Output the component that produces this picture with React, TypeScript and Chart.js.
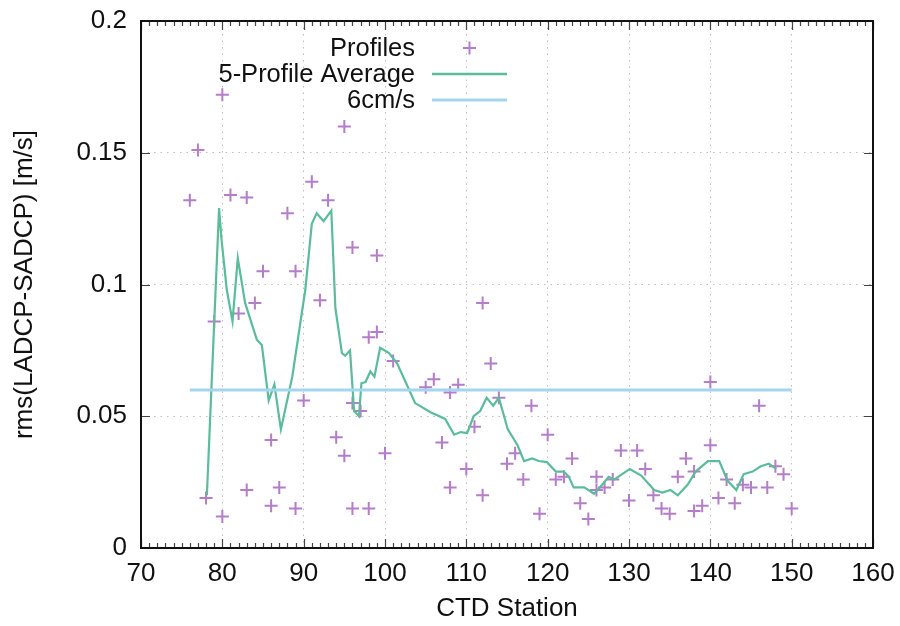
import React, { useEffect, useRef } from "react";
import { Chart, registerables } from "chart.js";

Chart.register(...registerables);

// ---- data ----
const profileStations = [
  76, 77, 78, 79, 80, 80, 81, 82, 83, 83, 84, 85, 86, 86, 87, 88, 89, 89, 90, 91,
  92, 93, 94, 95, 95, 96, 96, 96, 97, 98, 98, 99, 99, 100, 101, 105, 106, 107, 108, 108,
  109, 110, 111, 112, 112, 113, 114, 115, 116, 117, 118, 119, 120, 121, 122, 123, 124, 125, 126, 126,
  127, 128, 129, 130, 131, 132, 133, 134, 135, 136, 137, 138, 138, 139, 140, 140, 141, 142, 143, 144,
  145, 146, 147, 148, 149, 150,
];
const profileValues = [
  0.132, 0.151, 0.019, 0.086, 0.172, 0.012, 0.134, 0.089, 0.133, 0.022, 0.093, 0.105, 0.041, 0.016, 0.023, 0.127, 0.105, 0.015, 0.056, 0.139,
  0.094, 0.132, 0.042, 0.160, 0.035, 0.114, 0.055, 0.015, 0.052, 0.080, 0.015, 0.111, 0.082, 0.036, 0.071, 0.061, 0.064, 0.040, 0.059, 0.023,
  0.062, 0.030, 0.046, 0.093, 0.020, 0.070, 0.057, 0.032, 0.036, 0.026, 0.054, 0.013, 0.043, 0.026, 0.027, 0.034, 0.017, 0.011, 0.027, 0.022,
  0.023, 0.026, 0.037, 0.018, 0.037, 0.030, 0.020, 0.015, 0.013, 0.027, 0.034, 0.029, 0.014, 0.016, 0.063, 0.039, 0.019, 0.026, 0.017, 0.024,
  0.023, 0.054, 0.023, 0.031, 0.028, 0.015,
];

const averageStations = [
  78.1, 79.6, 79.9, 80.55, 81.25, 81.9, 82.8, 84.25, 84.86, 85.7, 86.4, 87.2, 88.6, 90.2, 91.0, 91.6, 92.45, 93.4, 93.9, 94.7,
  95.1, 95.7, 96.2, 96.8, 97.1, 97.6, 98.2, 98.7, 99.4, 100.5, 101.5, 103.7, 105.6, 107.4, 108.5, 109.3, 110.1, 110.9, 111.7, 112.5,
  113.3, 114.0, 115.1, 116.3, 117.1, 118.1, 118.9, 119.9, 121.0, 122.0, 122.6, 123.2, 124.5, 125.7, 126.7, 127.5, 128.2, 130.1, 131.5, 133.1,
  134.1, 135.1, 136.0, 137.2, 138.2, 139.7, 141.1, 142.1, 143.2, 144.1, 145.2, 146.2, 147.2, 148.1,
];
const averageValues = [
  0.020, 0.129, 0.117, 0.098, 0.086, 0.110, 0.093, 0.079, 0.077, 0.056, 0.062, 0.045, 0.065, 0.098, 0.123, 0.127, 0.124, 0.128, 0.091, 0.074,
  0.073, 0.075, 0.052, 0.050, 0.0625, 0.063, 0.067, 0.065, 0.076, 0.074, 0.070, 0.055, 0.0515, 0.049, 0.043, 0.044, 0.0436, 0.050, 0.052, 0.057,
  0.054, 0.057, 0.045, 0.039, 0.033, 0.034, 0.033, 0.0326, 0.029, 0.029, 0.027, 0.023, 0.023, 0.0206, 0.024, 0.027, 0.026, 0.030, 0.0275, 0.022,
  0.021, 0.022, 0.020, 0.024, 0.029, 0.033, 0.033, 0.0256, 0.022, 0.028, 0.029, 0.031, 0.032, 0.030,
];

const thresholdStations = [76, 150];
const thresholdValues = [0.06, 0.06];

const seriesLabels = ["Profiles", "5-Profile Average", "6cm/s"];
const xTitle = "CTD Station";
const yTitle = "rms(LADCP-SADCP) [m/s]";
const X_MIN = 70, X_MAX = 160, X_STEP = 10;
const Y_MIN = 0, Y_MAX = 0.2, Y_STEP = 0.05;

const PURPLE = "#b57cca";
const GREEN = "#5bbc9a";
const BLUE = "#a3d5ee";
const FONT = "'Liberation Sans', Arial, Helvetica, sans-serif";

const zip = (xs: number[], ys: number[]) => xs.map((x, i) => ({ x, y: ys[i] }));

const drawCross = (ctx: CanvasRenderingContext2D, cx: number, cy: number, r: number) => {
  ctx.beginPath();
  ctx.moveTo(cx - r, cy);
  ctx.lineTo(cx + r, cy);
  ctx.moveTo(cx, cy - r);
  ctx.lineTo(cx, cy + r);
  ctx.stroke();
};

const framePlugin = {
  id: "gnuframe",
  afterDraw(chart: any) {
    const { ctx, chartArea } = chart;
    const { left, right, top, bottom } = chartArea;
    const xs = chart.scales.x;
    const ys = chart.scales.y;
    ctx.save();
    ctx.strokeStyle = "#444";
    ctx.lineWidth = 1.2;
    for (let v = X_MIN; v <= X_MAX + 1e-9; v += 1) {
      const px = Math.round(xs.getPixelForValue(v)) + 0.5;
      const major = Math.abs(v % X_STEP) < 1e-9;
      const len = major ? 9 : 5;
      ctx.beginPath();
      ctx.moveTo(px, bottom);
      ctx.lineTo(px, bottom - len);
      ctx.moveTo(px, top);
      ctx.lineTo(px, top + len);
      ctx.stroke();
    }
    for (let v = Y_MIN; v <= Y_MAX + 1e-9; v += Y_STEP) {
      const py = Math.round(ys.getPixelForValue(v)) + 0.5;
      ctx.beginPath();
      ctx.moveTo(left, py);
      ctx.lineTo(left + 9, py);
      ctx.moveTo(right, py);
      ctx.lineTo(right - 9, py);
      ctx.stroke();
    }
    ctx.strokeStyle = "#111";
    ctx.lineWidth = 2;
    ctx.strokeRect(left, top, right - left, bottom - top);

    // legend
    const textRight = 415;
    const symL = 432, symR = 507;
    const rows = [48, 74, 100];
    ctx.font = `25.5px ${FONT}`;
    ctx.fillStyle = "#111";
    ctx.textAlign = "right";
    ctx.textBaseline = "middle";
    seriesLabels.forEach((lbl, i) => ctx.fillText(lbl, textRight, rows[i] + 1));
    ctx.strokeStyle = PURPLE;
    ctx.lineWidth = 2;
    drawCross(ctx, (symL + symR) / 2, rows[0], 6.5);
    ctx.strokeStyle = GREEN;
    ctx.lineWidth = 2.5;
    ctx.beginPath();
    ctx.moveTo(symL, rows[1]);
    ctx.lineTo(symR, rows[1]);
    ctx.stroke();
    ctx.strokeStyle = BLUE;
    ctx.lineWidth = 3;
    ctx.beginPath();
    ctx.moveTo(symL, rows[2]);
    ctx.lineTo(symR, rows[2]);
    ctx.stroke();
    ctx.restore();
  },
};

export default function App() {
  const ref = useRef<HTMLCanvasElement | null>(null);
  useEffect(() => {
    if (!ref.current) return;
    const chart = new Chart(ref.current, {
      type: "scatter",
      data: {
        datasets: [
          {
            label: seriesLabels[0],
            data: zip(profileStations, profileValues),
            showLine: false,
            pointStyle: "cross",
            pointRadius: 6.5,
            pointBorderWidth: 2,
            pointBorderColor: PURPLE,
            pointBackgroundColor: PURPLE,
            order: 3,
          } as any,
          {
            label: seriesLabels[1],
            data: zip(averageStations, averageValues),
            showLine: true,
            borderColor: GREEN,
            borderWidth: 2.2,
            pointRadius: 0,
            tension: 0,
            order: 2,
          },
          {
            label: seriesLabels[2],
            data: zip(thresholdStations, thresholdValues),
            showLine: true,
            borderColor: BLUE,
            borderWidth: 3,
            pointRadius: 0,
            order: 1,
          },
        ],
      },
      options: {
        animation: false,
        responsive: false,
        devicePixelRatio: 1,
        layout: { padding: { top: 21, right: 27, left: 0, bottom: 0 } },
        plugins: { legend: { display: false }, tooltip: { enabled: false } },
        scales: {
          x: {
            type: "linear",
            min: X_MIN,
            max: X_MAX,
            afterFit: (s: any) => {
              s.height = 78;
              s.paddingLeft = 0;
              s.paddingRight = 0;
            },
            ticks: {
              stepSize: X_STEP,
              color: "#111",
              font: { family: FONT, size: 26 },
              padding: 10,
              maxRotation: 0,
            },
            grid: { color: "#bdbdbd", lineWidth: 1, drawTicks: false },
            border: { display: false, dash: [1.5, 5] },
            title: {
              display: true,
              text: xTitle,
              color: "#111",
              font: { family: FONT, size: 26 },
              padding: { top: 0, bottom: 2 },
            },
          },
          y: {
            type: "linear",
            min: Y_MIN,
            max: Y_MAX,
            afterFit: (s: any) => {
              s.width = 141;
              s.paddingTop = 0;
              s.paddingBottom = 0;
            },
            ticks: {
              stepSize: Y_STEP,
              color: "#111",
              font: { family: FONT, size: 26 },
              padding: 14,
              callback: (v: any) => String(Number(Number(v).toFixed(3))),
            },
            grid: { color: "#bdbdbd", lineWidth: 1, drawTicks: false },
            border: { display: false, dash: [1.5, 5] },
            title: {
              display: true,
              text: yTitle,
              color: "#111",
              font: { family: FONT, size: 26 },
              padding: { top: 9, bottom: 0 },
            },
          },
        },
      },
      plugins: [framePlugin],
    });
    return () => chart.destroy();
  }, []);
  return (
    <div style={{ position: "fixed", left: 0, top: 0, width: 900, height: 626, background: "#fff" }}>
      <canvas ref={ref} width={900} height={626} style={{ width: 900, height: 626, display: "block" }} />
    </div>
  );
}
